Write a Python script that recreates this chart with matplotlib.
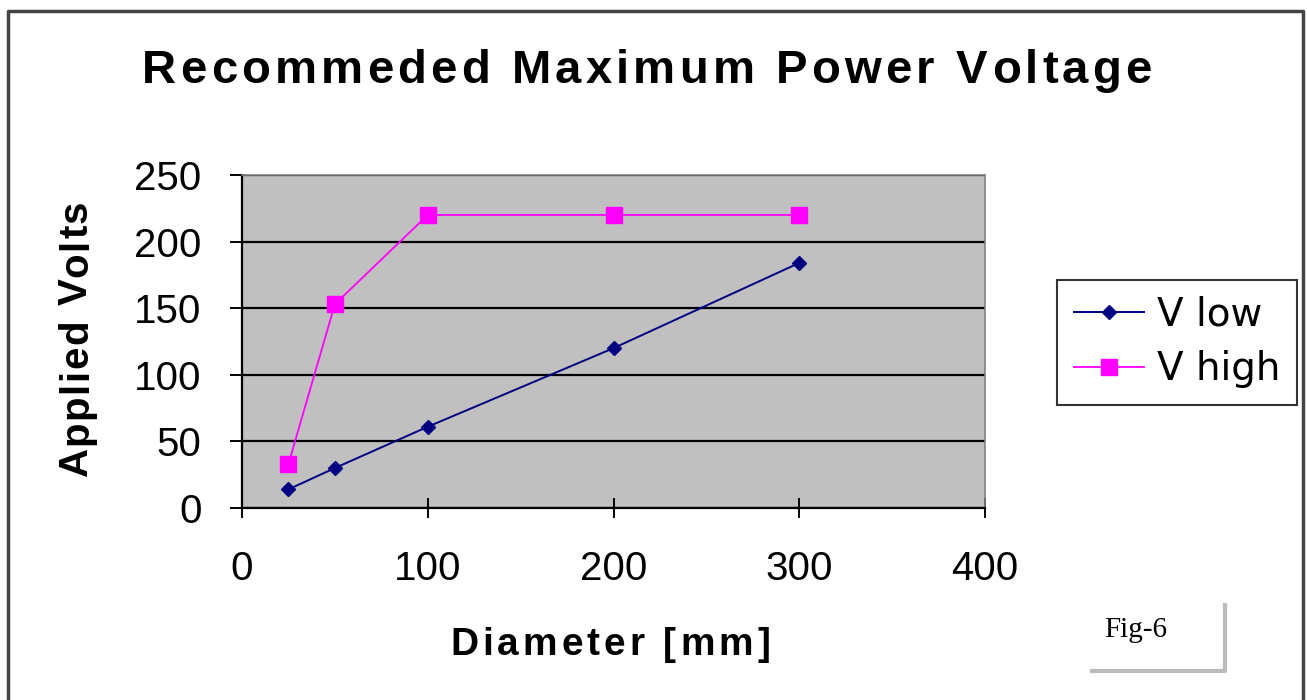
import matplotlib
matplotlib.use("Agg")
import matplotlib.pyplot as plt
from matplotlib.lines import Line2D
from matplotlib.font_manager import FontProperties

# data
diameter = [25, 50, 100, 200, 300]
v_low = [14, 30, 61, 120, 184]
v_high = [33, 153, 220, 220, 220]
x_ticks = [0, 100, 200, 300, 400]
y_ticks = [0, 50, 100, 150, 200, 250]

plt.rcParams['font.family'] = ['Liberation Sans', 'DejaVu Sans']

W, H = 1307, 700
fig = plt.figure(figsize=(W / 100, H / 100), dpi=100)
renderer = fig.canvas.get_renderer()


def char_width(c, fp):
    if c == ' ':
        a = renderer.get_text_width_height_descent('x x', fp, ismath=False)[0]
        b = renderer.get_text_width_height_descent('xx', fp, ismath=False)[0]
        return a - b
    return renderer.get_text_width_height_descent(c, fp, ismath=False)[0]


def spaced_text(cx, base, s, size, total, rotation=0):
    # letter-spaced bold text, centred at cx (px), baseline at base (px)
    fp = FontProperties(family='Liberation Sans', weight='bold', size=size)
    widths = [char_width(c, fp) for c in s]
    gap = (total - sum(widths)) / (len(s) - 1)
    pos = -total / 2
    for c, w in zip(s, widths):
        mid = pos + w / 2
        if rotation == 0:
            x, y = cx + mid, base
        else:
            x, y = base, cx - mid
        fig.text(x / W, 1 - y / H, c, fontproperties=fp, rotation=rotation,
                 rotation_mode='anchor', ha='center', va='baseline')
        pos += w + gap


# outer frame (open at the bottom)
fig.add_artist(Line2D([8 / W, 8 / W, 1303 / W, 1303 / W],
                      [0, 1 - 11 / H, 1 - 11 / H, 0],
                      transform=fig.transFigure, color='#444444', lw=2.5))

ax = fig.add_axes([242 / W, 1 - 508 / H, 743 / W, 333 / H])
ax.set_facecolor('#C0C0C0')

ax.plot(diameter, v_low, color='#000080', lw=1.4, marker='D', ms=7,
        label='V low', zorder=3)
ax.plot(diameter, v_high, color='#FF00FF', lw=1.3, marker='s', ms=11.5,
        label='V high', zorder=3)

ax.set_xlim(0, 400)
ax.set_ylim(0, 250)
ax.set_xticks(x_ticks)
ax.set_yticks(y_ticks)
ax.yaxis.grid(True, color='black', lw=1.6)
ax.set_axisbelow(True)

for s in ['left', 'bottom']:
    ax.spines[s].set_color('black')
    ax.spines[s].set_linewidth(1.6)
for s in ['top', 'right']:
    ax.spines[s].set_color('#808080')
    ax.spines[s].set_linewidth(1.2)

ax.tick_params(axis='both', direction='out', length=9, width=1.4,
               colors='black', labelsize=29)
ax.tick_params(axis='x', direction='inout', length=14, pad=23)
ax.tick_params(axis='y', pad=20)

spaced_text(647, 83, 'Recommeded Maximum Power Voltage', 34, 1010)
spaced_text(338, 87, 'Applied Volts', 29, 275, rotation=90)
spaced_text(610, 655, 'Diameter [mm]', 28, 320)

leg = fig.legend(loc='center', bbox_to_anchor=(1177 / W, 1 - 342 / H),
                 fontsize=28, frameon=True, fancybox=False,
                 handlelength=1.8, handletextpad=0.35, borderpad=0.42,
                 labelspacing=0.42)
leg.get_frame().set_edgecolor('black')
leg.get_frame().set_linewidth(1.5)
for t in leg.get_texts():
    t.set_fontfamily(['DejaVu Sans'])

# Fig-6 box with shadow
fig.add_artist(Line2D([1092 / W, 1225 / W, 1225 / W],
                      [1 - 671 / H, 1 - 671 / H, 1 - 605 / H],
                      transform=fig.transFigure, color='#BBBBBB', lw=3))
fig.text(1104 / W, 1 - 637 / H, 'Fig-6', ha='left', va='baseline',
         fontsize=21, family=['Liberation Serif', 'DejaVu Serif'])

fig.savefig('out.png', dpi=100)
